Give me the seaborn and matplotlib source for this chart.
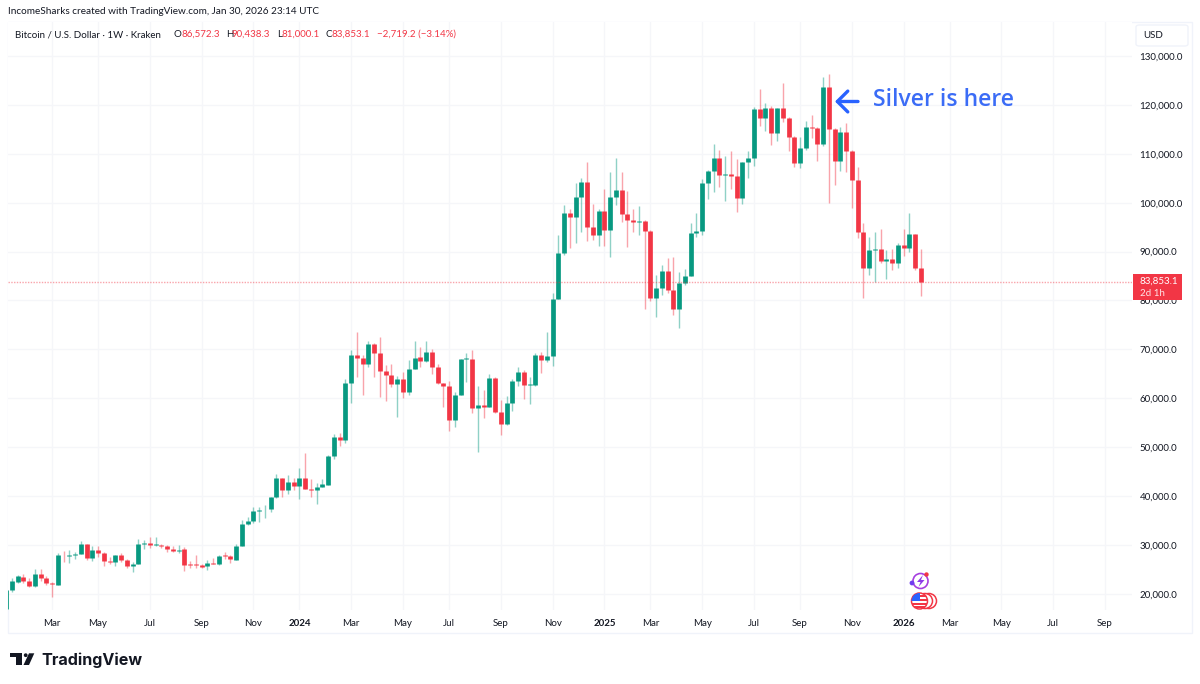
import numpy as np
import pandas as pd
import seaborn as sns
import matplotlib.pyplot as plt
from matplotlib.patches import Rectangle, Circle, Polygon, FancyBboxPatch

# weekly BTCUSD candles, first week is 2023-01-09
opens = [16900, 20720, 22490, 23510, 22690, 21540, 24130, 23310, 22280, 21880,
         28010, 27810, 28010, 28150, 30120, 27400, 29030, 28280, 26780, 26580,
         27880, 26920, 25690, 26100, 30260, 30470, 29920, 30060, 29850, 29100,
         28760, 29100, 26100, 26030, 25830, 25630, 26310, 26030, 27940, 27740,
         26990, 29780, 34350, 34830, 36940, 37280, 37280, 39810, 43620, 41240,
         42870, 42120, 43700, 41520, 41310, 41790, 42340, 48200, 52020, 51470,
         63060, 68920, 68240, 67010, 71170, 69260, 65510, 64830, 62920, 63880,
         61220, 66060, 68380, 67560, 69540, 66470, 63060, 62510, 55630, 60610,
         68040, 68100, 57950, 58630, 58290, 64080, 57130, 54670, 58970, 63470,
         65450, 62650, 62650, 68850, 67760, 68580, 80310, 89780, 97890, 97140,
         101100, 104300, 95030, 93390, 98230, 94420, 101170, 102530, 97690, 96460,
         96120, 96260, 94210, 80580, 82490, 85960, 82210, 78260, 83650, 85080,
         93730, 94280, 104100, 106550, 109070, 105660, 105800, 105530, 100890, 108390,
         109140, 119090, 117250, 119430, 114190, 119370, 117320, 113370, 108190, 111190,
         115410, 115280, 112070, 123590, 115070, 108590, 114460, 110570, 104640, 94080,
         86640, 90320, 90460, 88080, 88550, 87730, 91420, 90730, 93600, 86572.3]
highs = [20720, 23170, 23790, 24060, 23240, 25080, 25080, 23720, 22400, 28280,
         28690, 28960, 28620, 30810, 30260, 29850, 29720, 28490, 27530, 28010,
         28350, 27190, 26580, 31280, 31080, 31560, 31690, 30260, 29990, 29720,
         29990, 29580, 26650, 27940, 26170, 26920, 27330, 27880, 28490, 27940,
         30190, 35100, 35780, 37760, 37690, 38240, 39810, 44510, 43800, 44240,
         43690, 45740, 48740, 43430, 42610, 43560, 48400, 52700, 52830, 63880,
         69880, 73560, 68790, 71650, 71300, 72600, 66810, 67080, 64560, 65380,
         67830, 71790, 70490, 71790, 70010, 67080, 63200, 63600, 61220, 68100,
         69260, 69880, 62510, 61630, 64900, 64290, 59650, 60540, 63880, 66330,
         65700, 64290, 69190, 69470, 73490, 81470, 93320, 99600, 98780, 103960,
         104980, 108260, 99730, 98780, 102730, 106210, 109070, 106350, 102390, 98780,
         99390, 96400, 94400, 85210, 87330, 88690, 88960, 85890, 86370, 95780,
         97820, 104850, 106700, 112000, 110780, 109620, 110570, 108870, 108390, 110570,
         119640, 123180, 120320, 119700, 119430, 124410, 117500, 113600, 113500, 116710,
         117930, 115420, 125770, 126250, 115200, 115410, 116230, 110700, 107370, 95780,
         92920, 93940, 94550, 90260, 90530, 91690, 94690, 97820, 93700, 90438.3]
lows = [16900, 20310, 22220, 22150, 21330, 21330, 22560, 21810, 19350, 21740,
        26440, 26380, 27060, 28080, 26920, 26780, 27530, 25630, 26030, 25630,
        26440, 25350, 24530, 26030, 29240, 29440, 29850, 29310, 28620, 28620,
        28420, 24600, 25220, 25220, 25220, 24810, 26030, 25830, 27190, 26380,
        26990, 29720, 34010, 34490, 34620, 35510, 36670, 39530, 39870, 40350,
        41170, 39400, 41450, 39880, 38380, 41790, 42340, 47520, 50240, 50930,
        59110, 64420, 60670, 66330, 64420, 60330, 59510, 62310, 56240, 60060,
        60670, 65990, 66470, 67490, 64970, 62990, 58290, 53380, 54130, 60610,
        63330, 57060, 49020, 55970, 58150, 57060, 52430, 54610, 57400, 62510,
        59800, 58900, 62510, 65100, 67490, 66670, 80240, 89370, 90730, 91830,
        94080, 92100, 92370, 91210, 91140, 88960, 99600, 96050, 91010, 94080,
        93330, 78190, 79900, 76560, 81120, 81600, 76970, 74310, 83100, 85010,
        92920, 93330, 100760, 102120, 103140, 100410, 102730, 98170, 99660, 105120,
        107500, 115690, 114660, 111870, 112620, 116500, 110570, 107300, 107160, 110780,
        113160, 108590, 111590, 100010, 103550, 106550, 106280, 98850, 92710, 80580,
        85210, 83850, 87600, 84330, 86240, 86640, 89100, 89990, 86240, 81000.1]
closes = [20720, 22560, 23580, 22630, 21540, 24130, 23310, 22220, 21950, 27880,
          27880, 28010, 28220, 30120, 27400, 29030, 28280, 26720, 26440, 27880,
          26990, 25690, 26170, 30260, 30470, 29990, 30120, 29850, 29100, 28830,
          29030, 25970, 25900, 25900, 25560, 26310, 26030, 27810, 27810, 27060,
          29780, 34350, 34830, 36870, 37210, 37350, 39810, 43620, 41300, 42870,
          42050, 43760, 41450, 41310, 41790, 42400, 48200, 52020, 51540, 63060,
          68920, 68170, 67010, 71170, 69260, 65510, 64830, 62920, 63880, 61220,
          66060, 68310, 67560, 69540, 66470, 63060, 62510, 55630, 60670, 67970,
          68170, 57950, 58560, 58290, 64080, 57130, 54670, 58970, 63470, 65450,
          62650, 62850, 68850, 67760, 68580, 80310, 89780, 97890, 97140, 101100,
          104300, 95030, 93390, 98300, 94420, 101170, 102530, 97690, 96390, 96120,
          96260, 94210, 80580, 82490, 85960, 82210, 78260, 83650, 85080, 93730,
          94280, 104100, 106550, 109070, 105660, 105800, 105530, 100890, 108390, 109140,
          119090, 117250, 119430, 114190, 119370, 117320, 113370, 108190, 111190, 115410,
          115280, 112070, 123590, 115070, 108590, 114460, 110570, 104640, 94080, 86640,
          90320, 90460, 88080, 88550, 87730, 91420, 90730, 93600, 86570, 83853.1]

price_ticks = [20000, 30000, 40000, 50000, 60000, 70000, 80000, 90000, 100000,
               110000, 120000, 130000]
month_weeks = [8, 16, 25, 34, 43, 51, 60, 69, 77, 86, 95, 104, 112, 121, 130,
               138, 147, 156, 164, 173, 182, 191]
month_labels = ["Mar", "May", "Jul", "Sep", "Nov", "2024", "Mar", "May", "Jul",
                "Sep", "Nov", "2025", "Mar", "May", "Jul", "Sep", "Nov", "2026",
                "Mar", "May", "Jul", "Sep"]

last_price = 83853.1
GREEN = "#089981"
RED = "#F23645"
BLUE = "#3B6CF6"
INK = "#131722"
GRID = "#F5F6F9"
FONT = ["Lato", "DejaVu Sans"]
SMALL = 7.05


def px(x, y):
    """figure fraction from pixel position in the 1200x684 picture"""
    return x / 1200, 1 - y / 684


def label(x, y, s, **kw):
    kw.setdefault("color", INK)
    kw.setdefault("fontsize", SMALL)
    kw.setdefault("va", "center")
    fx, fy = px(x, y)
    return fig.text(fx, fy, s, **kw)


sns.set_theme(style="white")
plt.rcParams["font.family"] = FONT

candles = pd.DataFrame({"open": opens, "high": highs, "low": lows, "close": closes})
candles["week"] = candles.index
candles["direction"] = np.where(candles["close"] >= candles["open"], "up", "down")

wicks = candles.melt(id_vars=["week", "direction"], value_vars=["high", "low"],
                     value_name="price")
bodies = candles.melt(id_vars=["week", "direction"], value_vars=["open", "close"],
                      value_name="price")
colours = {"up": GREEN, "down": RED}

fig = plt.figure(figsize=(12, 6.84), dpi=100)
ax = fig.add_axes([8 / 1200, 1 - 610 / 684, 1124 / 1200, 588 / 684])

ax.set_axisbelow(True)
ax.grid(True, color=GRID, linewidth=1)
sns.lineplot(data=wicks, x="week", y="price", units="week", estimator=None, hue="direction",
             palette=colours, linewidth=1.0, alpha=0.45, legend=False, sort=False,
             solid_capstyle="butt", ax=ax)
sns.lineplot(data=bodies, x="week", y="price", units="week", estimator=None, hue="direction",
             palette=colours, linewidth=3.4, legend=False, sort=False,
             solid_capstyle="butt", ax=ax)
ax.axhline(last_price, color=RED, linewidth=1, linestyle=(0, (1, 1)), alpha=0.45)

ax.set_xlim(0.348, 195.7)
ax.set_ylim(16707, 136953)
ax.set_xlabel("")
ax.set_ylabel("")
ax.set_xticks(month_weeks)
ax.set_xticklabels(month_labels, color=INK, fontsize=SMALL)
for lab, name in zip(ax.get_xticklabels(), month_labels):
    if name.isdigit():
        lab.set_fontweight("bold")
ax.set_yticks(price_ticks)
ax.set_yticklabels([f"{p:,.1f}" for p in price_ticks], color=INK, fontsize=SMALL)
ax.yaxis.tick_right()
ax.tick_params(axis="both", length=0)
ax.tick_params(axis="x", pad=6.5)
ax.tick_params(axis="y", pad=5.5)
for side in ax.spines.values():
    side.set_visible(False)

# pane border
x0, y0 = px(8, 633)
fig.add_artist(Rectangle((x0, y0), 1184 / 1200, 611 / 684, transform=fig.transFigure,
                         fill=False, edgecolor="#F0F3FA", linewidth=1, zorder=-1))

# header and legend line
label(8, 12, "IncomeSharks created with TradingView.com, Jan 30, 2026 23:14 UTC", fontsize=7.2)
label(15, 34.5, "Bitcoin / U.S. Dollar · 1W · Kraken")
for x, s in [(174, "O"), (226, "H"), (277, "L"), (326, "C")]:
    label(x, 34.5, s)
for x, s in [(181.5, "86,572.3"), (232, "90,438.3"), (282, "81,000.1"), (332, "83,853.1"),
             (377, "−2,719.2 (−3.14%)")]:
    label(x, 34.5, s, color=RED)

# USD box
bx, by = px(1136, 46)
fig.add_artist(FancyBboxPatch((bx, by), 52 / 1200, 21 / 684, transform=fig.transFigure,
                              boxstyle="round,pad=0,rounding_size=0.003",
                              facecolor="white", edgecolor="#F0F3FA", linewidth=1))
label(1143, 36, "USD")

# last price tag
tx, ty = px(1133, 300)
fig.add_artist(Rectangle((tx, ty), 49 / 1200, 26 / 684, transform=fig.transFigure,
                         facecolor=RED, edgecolor="none", zorder=3))
label(1140, 281.5, "83,853.1", color="white", zorder=4)
label(1140, 293, "2d 1h", color="#FFE3E6", zorder=4)

# drawing on the chart
label(873, 100, "Silver is here", color=BLUE, fontsize=16.5, fontweight="semibold",
      family=["Open Sans", "DejaVu Sans"])
ax.annotate("", xy=px(835, 101.5), xytext=px(858, 101.5), xycoords="figure fraction",
            textcoords="figure fraction",
            arrowprops=dict(arrowstyle="->,head_length=7.5,head_width=7.5", mutation_scale=1,
                            color="#2962FF", linewidth=2.4, shrinkA=0, shrinkB=0))

# event icons under the last candles
def circle(x, y, r, **kw):
    c = Circle((x, 684 - y), r, transform=None, **kw)
    fig.add_artist(c)
    return c


circle(920.5, 581, 7.5, facecolor="white", edgecolor="#A63FE0", linewidth=1.2, zorder=5)
circle(926.5, 574.5, 2.2, facecolor=RED, edgecolor="none", zorder=6)
circle(912, 583, 2.4, facecolor="#6F3CF0", edgecolor="none", zorder=6)
fig.add_artist(Polygon([px(923, 575), px(917, 582), px(920.5, 582), px(918.5, 587),
                        px(924.5, 580), px(921, 580)], closed=True,
                       transform=fig.transFigure, facecolor="#8E3BE8", edgecolor="none", zorder=6))
circle(929, 601, 7.5, facecolor="white", edgecolor=RED, linewidth=1.1, zorder=5)
circle(925, 601, 7.5, facecolor="white", edgecolor=RED, linewidth=1.1, zorder=5)
flag = circle(919.5, 601, 8, facecolor="white", edgecolor=RED, linewidth=1.1, zorder=6)
for y in [596, 600, 604, 607]:
    fx, fy = px(911, y + 1.2)
    bar = Rectangle((fx, fy), 17 / 1200, 2.2 / 684, transform=fig.transFigure,
                    facecolor=RED, edgecolor="none", zorder=7)
    fig.add_artist(bar)
    bar.set_clip_path(flag)
fx, fy = px(911, 601)
canton = Rectangle((fx, fy), 8.5 / 1200, 9 / 684, transform=fig.transFigure,
                   facecolor="#2962FF", edgecolor="none", zorder=8)
fig.add_artist(canton)
canton.set_clip_path(flag)

# TradingView logo
fig.add_artist(Polygon([px(10, 653.3), px(22, 653.3), px(22, 665), px(15.7, 665), px(15.7, 657),
                        px(10, 657)], closed=True, transform=fig.transFigure,
                       facecolor=INK, edgecolor="none"))
circle(25.7, 655.2, 1.9, facecolor=INK, edgecolor="none")
fig.add_artist(Polygon([px(29, 653.3), px(34.3, 653.3), px(29, 665), px(23.5, 665)], closed=True,
                       transform=fig.transFigure, facecolor=INK, edgecolor="none"))
label(41, 660, "TradingView", fontsize=11.6, fontweight="bold", family=["Inter", "DejaVu Sans"])

fig.savefig("out.png", dpi=100)
print("plot out.png created")
